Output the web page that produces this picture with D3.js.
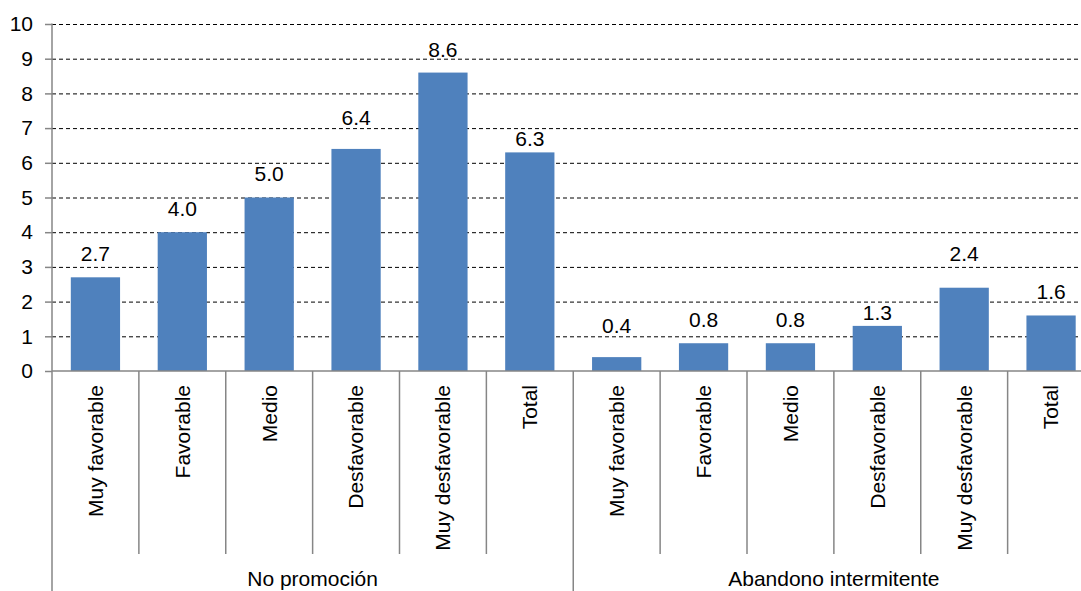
<!DOCTYPE html>
<html>
<head>
<meta charset="utf-8">
<script src="https://cdn.jsdelivr.net/npm/d3@7"></script>
<style>
  html, body { margin: 0; padding: 0; background: #fff; overflow: hidden; }
  svg { display: block; font-family: "Liberation Sans", Arial, sans-serif; }
</style>
</head>
<body>
<svg id="chart" width="1081" height="591"></svg>
<script>
// ---- data ----
const groups = ["No promoción", "Abandono intermitente"];
const categories = ["Muy favorable", "Favorable", "Medio", "Desfavorable", "Muy desfavorable", "Total"];
const noPromocion = [2.7, 4.0, 5.0, 6.4, 8.6, 6.3];
const abandonoIntermitente = [0.4, 0.8, 0.8, 1.3, 2.4, 1.6];
const yTicks = [0, 1, 2, 3, 4, 5, 6, 7, 8, 9, 10];

// ---- layout (not data) ----
const labelGap = [16, 16, 16.5, 24, 16, 6, 24, 16.5, 16.5, 6, 27, 16.5];
const W = 1081, H = 591;
const mLeft = 52, mRight = 1094.5, mTop = 24, mBottom = 371;
const FS = 21;
const FONT = "'Liberation Sans', Arial, sans-serif";

const seriesByGroup = [noPromocion, abandonoIntermitente];
const rows = [];
groups.forEach((g, gi) => {
  categories.forEach((c, ci) => {
    rows.push({ key: gi + "|" + ci, group: g, gi, ci, cat: c, value: seriesByGroup[gi][ci] });
  });
});

const svg = d3.select("#chart");

const x = d3.scaleBand()
  .domain(rows.map(d => d.key))
  .range([mLeft, mRight])
  .paddingInner(0.433)
  .paddingOuter(0.2165);

const y = d3.scaleLinear().domain([0, 10]).range([mBottom, mTop]);

// gridlines
svg.append("g")
  .selectAll("line")
  .data(yTicks.filter(t => t > 0))
  .join("line")
  .attr("x1", mLeft).attr("x2", W)
  .attr("y1", d => y(d) + 0.5).attr("y2", d => y(d) + 0.5)
  .attr("stroke", "#000")
  .attr("stroke-width", 1)
  .attr("stroke-dasharray", "4,3");

// bars
svg.append("g")
  .selectAll("rect")
  .data(rows)
  .join("rect")
  .attr("x", d => x(d.key))
  .attr("y", d => y(d.value))
  .attr("width", x.bandwidth())
  .attr("height", d => y(0) - y(d.value))
  .attr("fill", "#4F81BD");

// value labels
svg.append("g")
  .selectAll("text")
  .data(rows)
  .join("text")
  .attr("x", d => x(d.key) + x.bandwidth() / 2)
  .attr("y", (d, i) => y(d.value) - labelGap[i])
  .attr("text-anchor", "middle")
  .attr("font-size", FS)
  .attr("fill", "#000")
  .text(d => d3.format(".1f")(d.value));

// y axis
const yAxis = d3.axisLeft(y).tickValues(yTicks).tickSize(7).tickPadding(12).tickFormat(d3.format("d"));
const gy = svg.append("g").attr("transform", `translate(${mLeft},0)`).call(yAxis);
gy.select(".domain").remove();
gy.selectAll(".tick line").attr("stroke", "#868686").attr("stroke-width", 1.5);
gy.selectAll(".tick text").attr("font-size", FS).attr("fill", "#000").attr("font-family", FONT);

// axis lines
const axisColor = "#868686";
svg.append("line")
  .attr("x1", mLeft).attr("x2", W).attr("y1", mBottom).attr("y2", mBottom)
  .attr("stroke", axisColor).attr("stroke-width", 1.5);
svg.append("line")
  .attr("x1", mLeft).attr("x2", mLeft).attr("y1", mTop - 0.5).attr("y2", H)
  .attr("stroke", axisColor).attr("stroke-width", 1.5);

// category separators
const step = x.step();
const half = (step - x.bandwidth()) / 2;
svg.append("g")
  .selectAll("line")
  .data(rows.slice(1))
  .join("line")
  .attr("x1", d => x(d.key) - half)
  .attr("x2", d => x(d.key) - half)
  .attr("y1", mBottom)
  .attr("y2", d => d.ci === 0 ? H : 554)
  .attr("stroke", axisColor)
  .attr("stroke-width", 1.5);

// category labels
svg.append("g")
  .selectAll("text")
  .data(rows)
  .join("text")
  .attr("transform", d => `translate(${x(d.key) + x.bandwidth() / 2},385) rotate(-90)`)
  .attr("dy", "0.35em")
  .attr("text-anchor", "end")
  .attr("font-size", FS)
  .attr("fill", "#000")
  .text(d => d.cat);

// group labels
svg.append("g")
  .selectAll("text")
  .data(groups)
  .join("text")
  .attr("x", (g, gi) => {
    const first = x(gi + "|0") - half;
    const last = x(gi + "|" + (categories.length - 1)) + x.bandwidth() + half;
    return (first + last) / 2;
  })
  .attr("y", 586)
  .attr("text-anchor", "middle")
  .attr("font-size", FS)
  .attr("fill", "#000")
  .text(d => d);
</script>
</body>
</html>
